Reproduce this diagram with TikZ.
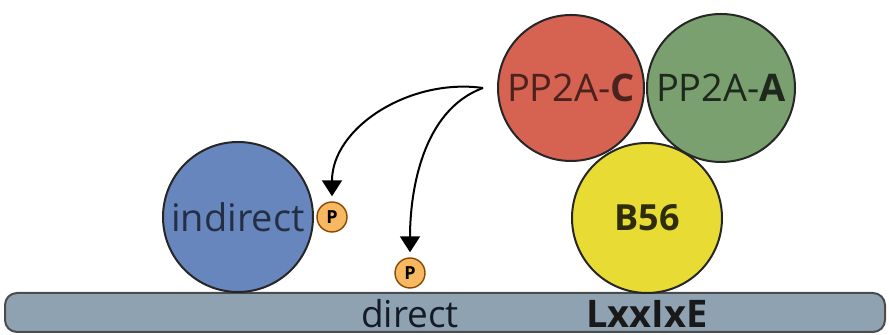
\documentclass[tikz,border=0pt]{standalone}
\usepackage{fontspec}
\setmainfont{Open Sans}
\usetikzlibrary{arrows.meta}
\definecolor{redC}{RGB}{214,98,82}
\definecolor{greenA}{RGB}{122,160,112}
\definecolor{yellowB}{RGB}{232,220,52}
\definecolor{blueS}{RGB}{104,134,190}
\definecolor{membr}{RGB}{143,162,178}
\definecolor{phosfill}{RGB}{246,184,96}
\tikzstyle{protein} = [circle, draw=black!85, line width=1pt, inner sep=0pt]
\tikzstyle{phos} = [circle, draw=orange!55!black, fill=phosfill, line width=0.7pt,
    minimum size=15pt, inner sep=0pt, font=\bfseries\fontsize{9}{9}\selectfont]
\tikzstyle{kin} = [-{Triangle[width=10pt,length=8pt]}, line width=1pt, shorten >=2.5pt]

\begin{document}
\begin{tikzpicture}[x=0.5pt,y=0.5pt]
\useasboundingbox (0,0) rectangle (889,335);
% membrane
\node [draw=black!70, fill=membr, line width=1pt, rounded corners=6pt,
    minimum width=440pt, minimum height=19.5pt, inner sep=0pt] (mem) at (445,22.5) {};
\node [anchor=base, inner sep=0pt, text=black!80!blueS,
    font=\fontsize{18.5}{18.5}\selectfont] (dir) at (410,7) {direct};
\node [anchor=base, inner sep=0pt, text=black!90,
    font=\bfseries\fontsize{19}{19}\selectfont] (motif) at (647,7) {LxxIxE};
% PP2A holoenzyme
\node [protein, fill=greenA, minimum size=74pt, text=black!75!greenA,
    font=\fontsize{19}{19}\selectfont] (ppa) at (721,247) {PP2A-\textbf{A}};
\node [protein, fill=redC, minimum size=73pt, text=black!65!redC,
    font=\fontsize{19}{19}\selectfont] (ppc) at (571,247) {PP2A-\textbf{C}};
\node [protein, fill=yellowB, minimum size=75pt, text=black!80!yellowB,
    font=\bfseries\fontsize{18}{18}\selectfont] (b56) at (647,117) {B56};
% substrates
\node [protein, fill=blueS, minimum size=75pt, text=black!65!blueS,
    font=\fontsize{19}{19}\selectfont] (ind) at (238,118) {indirect};
\node [phos] (p1) at (332,118) {P};
\node [phos] (p2) at (410,62) {P};
% dephosphorylation
\coordinate (src) at (483,247);
\draw [kin] (src) to[out=172, in=90] (p1.north);
\draw [kin] (src) to[out=200, in=90, looseness=0.9] (p2.north);
\end{tikzpicture}
\end{document}
